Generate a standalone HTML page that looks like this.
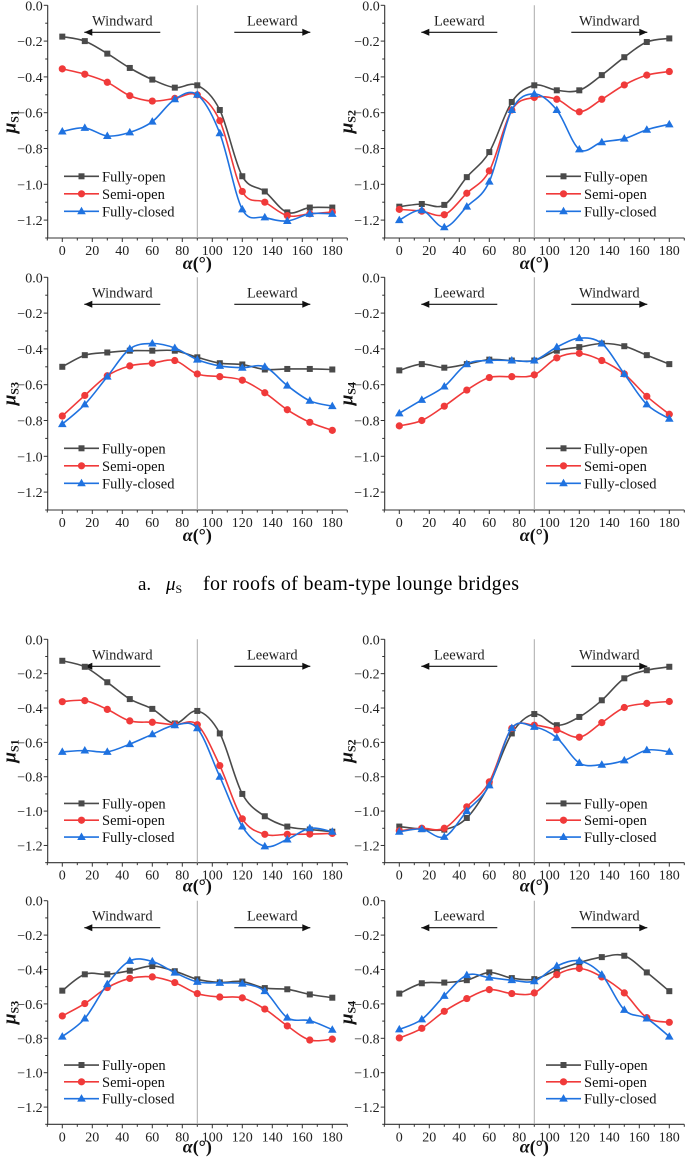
<!DOCTYPE html>
<html><head><meta charset="utf-8"><style>
html,body{margin:0;padding:0;background:#fff;}
svg{display:block;font-family:"Liberation Serif",serif;}
</style></head><body>
<svg id="fig" width="685" height="1157" viewBox="0 0 685 1157" xmlns="http://www.w3.org/2000/svg">
<g id="caption">
<text x="138" y="590" font-size="19">a.</text>
<text x="166" y="590" font-size="19" font-style="italic">μ<tspan font-size="12" font-style="normal" dy="3">S</tspan></text>
<text x="203" y="590" font-size="20" textLength="316">for roofs of beam-type lounge bridges</text>
</g>
</svg>
<script>
const categories = [0,15,30,45,60,75,90,105,120,135,150,165,180];
const seriesNames = ['Fully-open','Semi-open','Fully-closed'];
const yTicks = [0,-0.2,-0.4,-0.6,-0.8,-1.0,-1.2];
const xTicks = [0,20,40,60,80,100,120,140,160,180];
// Panel a-S1
const p1Open = [-0.175,-0.2,-0.27,-0.35,-0.415,-0.46,-0.447,-0.585,-0.955,-1.04,-1.157,-1.13,-1.13];
const p1Semi = [-0.355,-0.385,-0.43,-0.505,-0.535,-0.52,-0.5,-0.645,-1.04,-1.1,-1.175,-1.165,-1.155];
const p1Closed = [-0.705,-0.685,-0.73,-0.71,-0.65,-0.525,-0.5,-0.715,-1.14,-1.185,-1.205,-1.165,-1.165];
// Panel a-S2
const p2Open = [-1.125,-1.11,-1.115,-0.96,-0.82,-0.54,-0.447,-0.475,-0.475,-0.39,-0.29,-0.205,-0.185];
const p2Semi = [-1.14,-1.15,-1.17,-1.05,-0.925,-0.585,-0.515,-0.525,-0.595,-0.525,-0.445,-0.39,-0.37];
const p2Closed = [-1.2,-1.145,-1.24,-1.125,-0.985,-0.585,-0.495,-0.585,-0.805,-0.765,-0.745,-0.695,-0.665];
// Panel a-S3
const p3Open = [-0.5,-0.435,-0.42,-0.41,-0.41,-0.41,-0.447,-0.48,-0.487,-0.515,-0.512,-0.512,-0.515];
const p3Semi = [-0.775,-0.66,-0.55,-0.495,-0.48,-0.465,-0.54,-0.555,-0.575,-0.645,-0.74,-0.81,-0.855];
const p3Closed = [-0.82,-0.71,-0.555,-0.4,-0.37,-0.395,-0.46,-0.495,-0.505,-0.5,-0.605,-0.69,-0.72];
// Panel a-S4
const p4Open = [-0.52,-0.485,-0.505,-0.485,-0.46,-0.465,-0.465,-0.41,-0.39,-0.37,-0.385,-0.435,-0.485];
const p4Semi = [-0.83,-0.8,-0.72,-0.63,-0.56,-0.555,-0.545,-0.45,-0.425,-0.465,-0.54,-0.665,-0.765];
const p4Closed = [-0.76,-0.685,-0.61,-0.485,-0.465,-0.465,-0.465,-0.39,-0.34,-0.37,-0.54,-0.71,-0.79];
// Panel b-S1
const p5Open = [-0.125,-0.16,-0.25,-0.348,-0.405,-0.49,-0.417,-0.548,-0.9,-1.03,-1.09,-1.107,-1.12];
const p5Semi = [-0.363,-0.357,-0.408,-0.475,-0.483,-0.497,-0.497,-0.735,-1.045,-1.135,-1.135,-1.134,-1.13];
const p5Closed = [-0.655,-0.647,-0.655,-0.61,-0.553,-0.5,-0.518,-0.8,-1.09,-1.205,-1.165,-1.1,-1.12];
// Panel b-S2
const p6Open = [-1.09,-1.105,-1.108,-1.04,-0.845,-0.548,-0.435,-0.5,-0.452,-0.355,-0.227,-0.18,-0.16];
const p6Semi = [-1.115,-1.1,-1.1,-0.975,-0.83,-0.518,-0.5,-0.527,-0.57,-0.485,-0.397,-0.373,-0.362];
const p6Closed = [-1.12,-1.105,-1.15,-1.0,-0.85,-0.517,-0.51,-0.573,-0.72,-0.73,-0.705,-0.645,-0.655];
// Panel b-S3
const p7Open = [-0.523,-0.428,-0.428,-0.407,-0.38,-0.41,-0.457,-0.475,-0.47,-0.508,-0.515,-0.545,-0.564];
const p7Semi = [-0.67,-0.598,-0.505,-0.452,-0.443,-0.476,-0.54,-0.56,-0.565,-0.63,-0.728,-0.81,-0.805];
const p7Closed = [-0.79,-0.685,-0.485,-0.35,-0.353,-0.418,-0.472,-0.478,-0.482,-0.526,-0.68,-0.697,-0.75];
// Panel b-S4
const p8Open = [-0.54,-0.48,-0.476,-0.462,-0.417,-0.45,-0.456,-0.404,-0.36,-0.328,-0.32,-0.417,-0.526];
const p8Semi = [-0.798,-0.742,-0.643,-0.569,-0.517,-0.54,-0.536,-0.43,-0.394,-0.443,-0.536,-0.68,-0.707];
const p8Closed = [-0.748,-0.69,-0.553,-0.433,-0.447,-0.462,-0.468,-0.38,-0.35,-0.43,-0.635,-0.685,-0.79];

const NS='http://www.w3.org/2000/svg';
const svg=document.getElementById('fig');
const colors=['#4a4a4a','#f03a3a','#1f72e0'];
function mk(tag,attrs,parent){const e=document.createElementNS(NS,tag);for(const k in attrs)e.setAttribute(k,attrs[k]);parent.appendChild(e);return e;}
function spline(pts){let d='M'+pts[0][0]+','+pts[0][1];for(let i=0;i<pts.length-1;i++){const p0=pts[i-1]||pts[i],p1=pts[i],p2=pts[i+1],p3=pts[i+2]||p2;const c1=[p1[0]+(p2[0]-p0[0])/6,p1[1]+(p2[1]-p0[1])/6];const c2=[p2[0]-(p3[0]-p1[0])/6,p2[1]-(p3[1]-p1[1])/6];d+=' C'+c1[0].toFixed(1)+','+c1[1].toFixed(1)+' '+c2[0].toFixed(1)+','+c2[1].toFixed(1)+' '+p2[0].toFixed(1)+','+p2[1].toFixed(1);}return d;}
function marker(g,kind,x,y,c){let m;if(kind===0)m=mk('rect',{x:x-3,y:y-3,width:6,height:6,fill:c},g);else if(kind===1)m=mk('circle',{cx:x,cy:y,r:3.6,fill:c},g);else m=mk('polygon',{points:(x)+','+(y-4.5)+' '+(x+4.3)+','+(y+3)+' '+(x-4.3)+','+(y+3),fill:c},g);

}

function panel(cfg){
  const g=mk('g',{},svg);
  
  
  const x0=cfg.x0, top=cfg.top, k=cfg.k, ax=x0-14.6;
  const X=d=>x0+1.5*d, Y=v=>top-v*k;
  const bottom=Y(-1.3), right=X(190);
  const axes=mk('path',{d:'M'+ax+','+Y(0)+' V'+bottom+' H'+right,stroke:'#333',fill:'none','stroke-width':1.1},g);
  
  
  for(let v=0;v>=-1.3001;v-=0.1){const major=Math.abs(Math.round(v*10))%2===0;mk('line',{x1:ax,x2:ax-(major?4:2.5),y1:Y(v),y2:Y(v),stroke:'#333','stroke-width':1},g);}
  yTicks.forEach(v=>{const t=mk('text',{x:ax-5,y:Y(v)+5,'font-size':14,'text-anchor':'end',fill:'#222'},g);t.textContent=(v===0?'0.0':'\u2212'+Math.abs(v).toFixed(1));
    
    });
  for(let d=-10;d<=190;d+=10){const major=(d%20===0&&d>=0);mk('line',{x1:X(d),x2:X(d),y1:bottom,y2:bottom+(major?4:2.5),stroke:'#333','stroke-width':1},g);}
  xTicks.forEach(d=>{const t=mk('text',{x:X(d),y:bottom+17,'font-size':14,'text-anchor':'middle',fill:'#222'},g);t.textContent=d;
    
    });
  const xl=mk('text',{x:X(90),y:bottom+cfg.xlOff,'font-size':18,'font-weight':'bold','text-anchor':'middle',fill:'#111'},g);
  xl.innerHTML='<tspan font-style="italic">α</tspan>(°)';
  
  
  const yc=Y(-0.65);
  const yl=mk('text',{x:0,y:0,'font-size':19,'font-weight':'bold','font-style':'italic','text-anchor':'middle',fill:'#111',transform:'translate('+(ax-32)+','+yc+') rotate(-90)'},g);
  yl.innerHTML='μ<tspan font-size="12" font-style="normal" dy="3">'+cfg.sub+'</tspan>';
  
  
  const vl=mk('line',{x1:X(90),x2:X(90),y1:Y(0),y2:bottom,stroke:'#aaa','stroke-width':1},g);
  
  
  const ann=[[cfg.leftLabel,X(40),-1],[cfg.rightLabel,X(140),1]];
  ann.forEach(a=>{const t=mk('text',{x:a[1],y:top+20,'font-size':14.5,'text-anchor':'middle',fill:'#222'},g);t.textContent=a[0];
    
    
    const ay=top+27,x1=a[1]-38,x2=a[1]+38;
    mk('line',{x1:x1,x2:x2,y1:ay,y2:ay,stroke:'#111','stroke-width':1.2},g);
    const tip=a[2]<0?x1:x2,s=a[2]<0?1:-1;
    const ar=mk('polygon',{points:tip+','+ay+' '+(tip+s*8)+','+(ay-3.5)+' '+(tip+s*8)+','+(ay+3.5),fill:'#111'},g);
    
    });
  cfg.series.forEach((vals,i)=>{const sg=mk('g',{},g);
    
    
    const pts=categories.map((c,j)=>[X(c),Y(vals[j])]);
    mk('path',{d:spline(pts),stroke:colors[i],fill:'none','stroke-width':1.6},sg);
    pts.forEach(p=>marker(sg,i,p[0],p[1],colors[i]));});
  const lx=cfg.legendX;
  const lg=mk('g',{},g);
  
  
  seriesNames.forEach((n,i)=>{const ly=top+cfg.legendOff*(k/179)+i*17.5*(k/179);
    const eg=mk('g',{},lg);
    
    
    mk('line',{x1:lx,x2:lx+35,y1:ly,y2:ly,stroke:colors[i],'stroke-width':1.6},eg);
    marker(eg,i,lx+17.5,ly,colors[i]);
    const t=mk('text',{x:lx+38,y:ly+5,'font-size':14.5,fill:'#111'},eg);t.textContent=n;});
}
const L=62.3,R=399.3;
panel({name:'panel-a-s1',x0:L,top:5.3,k:179,sub:'S1',xlOff:31,leftLabel:'Windward',rightLabel:'Leeward',legendX:64,legendOff:171,series:[p1Open,p1Semi,p1Closed]});
panel({name:'panel-a-s2',x0:R,top:5.3,k:179,sub:'S2',xlOff:31,leftLabel:'Leeward',rightLabel:'Windward',legendX:546,legendOff:171,series:[p2Open,p2Semi,p2Closed]});
panel({name:'panel-a-s3',x0:L,top:277.3,k:179,sub:'S3',xlOff:31,leftLabel:'Windward',rightLabel:'Leeward',legendX:64,legendOff:171,series:[p3Open,p3Semi,p3Closed]});
panel({name:'panel-a-s4',x0:R,top:277.3,k:179,sub:'S4',xlOff:31,leftLabel:'Leeward',rightLabel:'Windward',legendX:546,legendOff:171,series:[p4Open,p4Semi,p4Closed]});
panel({name:'panel-b-s1',x0:L,top:639.3,k:171.8,sub:'S1',xlOff:29,leftLabel:'Windward',rightLabel:'Leeward',legendX:64,legendOff:171,series:[p5Open,p5Semi,p5Closed]});
panel({name:'panel-b-s2',x0:R,top:639.3,k:171.8,sub:'S2',xlOff:29,leftLabel:'Leeward',rightLabel:'Windward',legendX:546,legendOff:171,series:[p6Open,p6Semi,p6Closed]});
panel({name:'panel-b-s3',x0:L,top:900.7,k:172,sub:'S3',xlOff:28,leftLabel:'Windward',rightLabel:'Leeward',legendX:64,legendOff:171,series:[p7Open,p7Semi,p7Closed]});
panel({name:'panel-b-s4',x0:R,top:900.7,k:172,sub:'S4',xlOff:28,leftLabel:'Leeward',rightLabel:'Windward',legendX:546,legendOff:171,series:[p8Open,p8Semi,p8Closed]});
</script>
</body></html>
